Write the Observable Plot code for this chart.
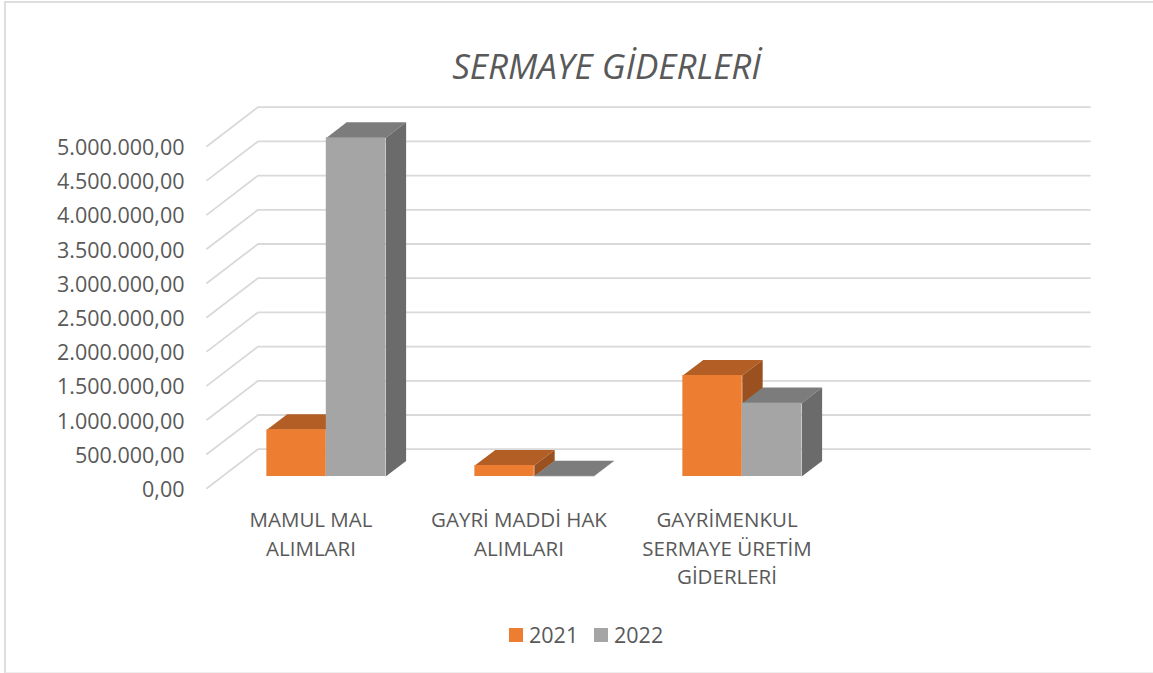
<!DOCTYPE html>
<html lang="tr">
<head>
<meta charset="utf-8">
<script src="https://cdn.jsdelivr.net/npm/d3@7"></script>
<script src="https://cdn.jsdelivr.net/npm/@observablehq/plot@0.6"></script>
<style>
html,body{margin:0;padding:0;background:#fff;}
#frame{position:relative;width:1153px;height:673px;overflow:hidden;font-family:"Open Sans",sans-serif;color:#595959;}
#frame::before{content:"";position:absolute;left:4px;top:1px;width:1200px;height:669px;border:2px solid #dedede;border-bottom-color:#eeeeee;box-sizing:content-box;pointer-events:none;}
#title{height:92px;box-sizing:border-box;padding-top:42px;padding-left:60px;text-align:center;font-size:35px;line-height:48px;font-style:italic;color:#595959;}
#chart svg{display:block;}
#legend{position:absolute;left:0;top:621px;height:28px;font-size:21.5px;line-height:28px;}
#legend span{position:absolute;top:0;white-space:nowrap;}
#legend i{position:absolute;top:7px;width:14px;height:14px;display:block;}
</style>
</head>
<body>
<div id="frame">
  <div id="title">SERMAYE GİDERLERİ</div>
  <div id="chart"></div>
  <div id="legend"></div>
</div>
<script>
const categories = ["MAMUL MAL\nALIMLARI", "GAYRİ MADDİ HAK\nALIMLARI", "GAYRİMENKUL\nSERMAYE ÜRETİM\nGİDERLERİ"];
const values2021 = [683000, 161000, 1477000];
const values2022 = [4950000, 4000, 1072000];
const seriesNames = ["2021", "2022"];
const yTicks = [0, 500000, 1000000, 1500000, 2000000, 2500000, 3000000, 3500000, 4000000, 4500000, 5000000];
const frontColors = ["#ED7D31", "#A5A5A5"];
const topColors = ["#B25E25", "#7C7C7C"];
const sideColors = ["#9A511F", "#6B6B6B"];

// oblique 3-D: one unit of depth moves a point right (category units) and up (value units)
const categorySlots = 4;
const depthX = 0.245, depthY = 570000;
const depthFront = 0.3, depthBack = 0.7;
const barWidth = 1 / 3.5, barGap = 0.75 / 3.5;

const project = (c, v, d) => ({x: c + d * depthX, y: v + d * depthY});
const poly = (pts) => pts.map(([c, v, d]) => project(c, v, d));

const grid = yTicks.flatMap((v) => [
  {tick: v, ...project(0, v, 0)},
  {tick: v, ...project(0, v, 1)},
  {tick: v, ...project(categorySlots, v, 1)}
]);

const bars = categories.flatMap((cat, i) =>
  [values2021[i], values2022[i]].map((v, s) => ({i, s, v, c0: i + barGap + s * barWidth, c1: i + barGap + (s + 1) * barWidth}))
);

const barMarks = bars.flatMap(({s, v, c0, c1}) => {
  const b = [project(c0, 0, depthFront), project(c1, 0, depthFront), project(c0, v, depthFront), project(c1, v, depthFront)];
  return [
    Plot.line(poly([[c0, v, depthFront], [c1, v, depthFront], [c1, v, depthBack], [c0, v, depthBack]]),
      {x: "x", y: "y", fill: topColors[s], stroke: "none"}),
    Plot.line(poly([[c1, 0, depthFront], [c1, v, depthFront], [c1, v, depthBack], [c1, 0, depthBack]]),
      {x: "x", y: "y", fill: sideColors[s], stroke: "none"}),
    Plot.rect([{x1: b[0].x, x2: b[1].x, y1: b[0].y, y2: b[2].y}],
      {x1: "x1", x2: "x2", y1: "y1", y2: "y2", fill: frontColors[s]})
  ];
});

const chart = Plot.plot({
  width: 1153,
  height: 510,
  marginLeft: 206, marginRight: 0, marginTop: 0, marginBottom: 0,
  style: {background: "transparent", fontFamily: "'Open Sans',sans-serif", overflow: "visible"},
  x: {type: "linear", domain: [0, categorySlots], range: [206.5, 1038.5], axis: null},
  y: {type: "linear", domain: [0, 5000000], range: [395.7, 53.7], axis: null},
  marks: [
    Plot.line(grid, {x: "x", y: "y", z: "tick", stroke: "#D9D9D9", strokeWidth: 1.8}),
    ...barMarks,
    Plot.axisY({
      ticks: yTicks, tickSize: 0, tickPadding: 22, label: null, dy: 2,
      fontSize: 21.5, color: "#595959",
      tickFormat: (d) => d.toLocaleString("de-DE", {minimumFractionDigits: 2, maximumFractionDigits: 2})
    }),
    Plot.text(categories, {
      x: (d, i) => i + 0.5, y: 0, text: (d) => d, dy: 19, lineAnchor: "top",
      fontSize: 20.5, fill: "#595959", lineHeight: 1.38, textAnchor: "middle"
    })
  ]
});
document.getElementById("chart").appendChild(chart);

const legend = document.getElementById("legend");
seriesNames.forEach((name, s) => {
  const sw = document.createElement("i");
  sw.style.left = (509 + s * 85) + "px";
  sw.style.background = frontColors[s];
  const t = document.createElement("span");
  t.style.left = (529 + s * 85) + "px";
  t.textContent = name;
  legend.append(sw, t);
});
</script>
</body>
</html>
